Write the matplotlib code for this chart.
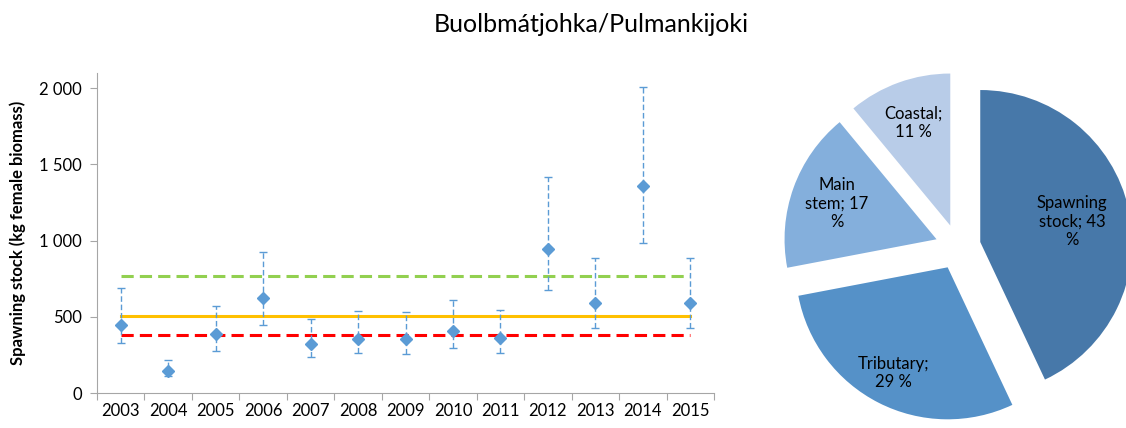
import matplotlib
matplotlib.use("Agg")
import matplotlib.pyplot as plt
import numpy as np

plt.rcParams['font.family'] = ['Lato', 'DejaVu Sans']

# data
years = ['2003', '2004', '2005', '2006', '2007', '2008', '2009',
         '2010', '2011', '2012', '2013', '2014', '2015']
stock = [444, 142, 385, 622, 320, 355, 355, 405, 364, 943, 591, 1357, 591]
upper = [689, 219, 571, 926, 488, 541, 530, 609, 547, 1416, 884, 2007, 884]
lower = [328, 112, 278, 449, 239, 261, 254, 298, 261, 674, 429, 987, 429]
green_ref = 771
orange_ref = 508
red_ref = 383

pie_labels = ['Spawning\nstock; 43\n%', 'Tributary;\n29 %', 'Main\nstem; 17\n%', 'Coastal;\n11 %']
pie_shares = [43, 29, 17, 11]
pie_colors = ['#4778A9', '#5591C8', '#84AFDC', '#B8CCE8']
label_dist = [0.62, 0.78, 0.70, 0.72]

W, H = 1126, 428
fig = plt.figure(figsize=(W / 100, H / 100), dpi=100)
fig.text(591 / W, 1 - 24 / H, 'Buolbmátjohka/Pulmankijoki', ha='center', va='center', fontsize=18)

# left: spawning stock with error bars
ax = fig.add_axes([97 / W, 1 - 393 / H, (714 - 97) / W, (393 - 73) / H])
x = np.arange(len(years))
s = np.array(stock)
yerr = [s - np.array(lower), np.array(upper) - s]
eb = ax.errorbar(x, s, yerr=yerr, fmt='D', color='#5B9BD5', ms=6.5,
                 ecolor='#5B9BD5', elinewidth=1, capsize=3, capthick=1, zorder=4)
eb[2][0].set_linestyle((0, (4, 2)))

ax.plot([x[0], x[-1]], [green_ref] * 2, color='#92D050', lw=2.2, ls=(0, (4, 2)), zorder=3)
ax.plot([x[0], x[-1]], [orange_ref] * 2, color='#FFC000', lw=2.2, zorder=3)
ax.plot([x[0], x[-1]], [red_ref] * 2, color='#FF0000', lw=2.2, ls=(0, (4, 2)), zorder=3)

ax.set_xlim(-0.5, len(years) - 0.5)
ax.set_ylim(0, 2100)
ax.set_xticks(np.arange(-0.5, len(years), 1.0))
ax.set_xticklabels([])
ax.set_xticks(x, minor=True)
ax.set_xticklabels(years, minor=True, fontsize=12)
ax.tick_params(axis='x', which='major', direction='out', length=5, color='#A6A6A6')
ax.tick_params(axis='x', which='minor', length=0, pad=7)
ax.set_yticks([0, 500, 1000, 1500, 2000])
ax.set_yticklabels(['0', '500', '1 000', '1 500', '2 000'], fontsize=12)
ax.tick_params(axis='y', direction='out', length=5, color='#A6A6A6', pad=6)
for side in ['top', 'right']:
    ax.spines[side].set_visible(False)
for side in ['left', 'bottom']:
    ax.spines[side].set_color('#A6A6A6')
ax.set_ylabel('Spawning stock (kg female biomass)', fontsize=12, fontweight='bold', labelpad=9)

# right: exploded pie
cx, cy, half = 958, 247, 185
pax = fig.add_axes([(cx - half) / W, 1 - (cy + half) / H, 2 * half / W, 2 * half / H])
wedges, _ = pax.pie(pie_shares, colors=pie_colors, startangle=90, counterclock=False,
                    explode=[0.15] * 4, radius=1.0)
for w, lab, d in zip(wedges, pie_labels, label_dist):
    ang = np.deg2rad((w.theta1 + w.theta2) / 2)
    px = w.center[0] + d * np.cos(ang)
    py = w.center[1] + d * np.sin(ang)
    pax.text(px, py, lab, ha='center', va='center', fontsize=12, linespacing=1.2)
lim = half / 152
pax.set_xlim(-lim, lim)
pax.set_ylim(-lim, lim)
pax.set_aspect('equal')

fig.savefig('out.png', dpi=100)
